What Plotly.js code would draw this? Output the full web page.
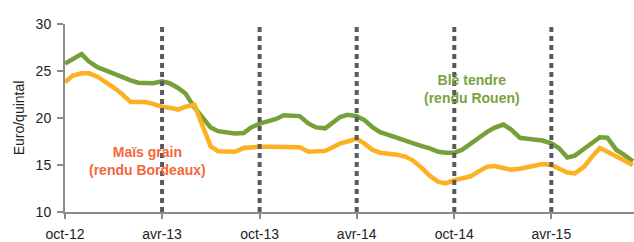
<!DOCTYPE html>
<html>
<head>
<meta charset="utf-8">
<script src="https://cdn.plot.ly/plotly-3.0.1.min.js"></script>
<style>html,body{margin:0;padding:0;background:#fff;}#chart{width:634px;height:242px;}</style>
</head>
<body>
<div id="chart"></div>
<script>
const dates = [
"2012-10-01","2012-10-15","2012-11-01","2012-11-15","2012-12-01","2012-12-15",
"2013-01-01","2013-01-15","2013-02-01","2013-02-15","2013-03-01","2013-03-15",
"2013-04-01","2013-04-15","2013-05-01","2013-05-15","2013-06-01","2013-06-15",
"2013-07-01","2013-07-15","2013-08-01","2013-08-15","2013-09-01","2013-09-15",
"2013-10-01","2013-10-15","2013-11-01","2013-11-15","2013-12-01","2013-12-15",
"2014-01-01","2014-01-15","2014-02-01","2014-02-15","2014-03-01","2014-03-15",
"2014-04-01","2014-04-15","2014-05-01","2014-05-15","2014-06-01","2014-06-15",
"2014-07-01","2014-07-15","2014-08-01","2014-08-15","2014-09-01","2014-09-15",
"2014-10-01","2014-10-15","2014-11-01","2014-11-15","2014-12-01","2014-12-15",
"2015-01-01","2015-01-15","2015-02-01","2015-02-15","2015-03-01","2015-03-15",
"2015-04-01","2015-04-15","2015-05-01","2015-05-15","2015-06-01","2015-06-15",
"2015-07-01","2015-07-15","2015-08-01","2015-08-15","2015-09-01"
];
const bleTendre = [
25.8,26.2,26.8,26.0,25.4,25.1,
24.7,24.3,24.0,23.75,23.7,23.7,
23.9,23.7,23.2,22.6,21.1,20.1,
19.0,18.6,18.4,18.35,18.4,19.0,
19.4,19.6,19.9,20.3,20.3,20.2,
19.4,19.0,18.9,19.5,20.1,20.35,
20.2,19.8,19.0,18.5,18.1,17.9,
17.6,17.3,17.0,16.8,16.4,16.3,
16.3,16.6,17.3,17.9,18.5,18.95,
19.3,18.8,17.9,17.8,17.75,17.6,
17.3,16.8,15.8,16.0,16.7,17.3,
17.95,17.9,16.6,16.1,15.4
];
const maisGrain = [
23.8,24.5,24.75,24.75,24.4,23.9,
23.2,22.6,21.7,21.7,21.7,21.5,
21.2,21.1,20.9,21.2,21.4,19.3,
17.0,16.45,16.4,16.4,16.8,16.9,
16.95,16.95,16.95,16.95,16.95,16.9,
16.4,16.4,16.5,16.9,17.3,17.5,
17.8,17.3,16.6,16.3,16.2,16.1,
15.9,15.5,14.7,13.9,13.2,13.05,
13.4,13.6,13.8,14.3,14.8,14.9,
14.65,14.5,14.6,14.8,14.95,15.1,
15.0,14.6,14.2,14.1,14.8,15.8,
16.8,16.4,15.9,15.6,15.0
];
const tickDates = ["2012-10-01","2013-04-01","2013-10-01","2014-04-01","2014-10-01","2015-04-01"];
const tickLabels = ["oct-12","avr-13","oct-13","avr-14","oct-14","avr-15"];
const seriesNames = ["Blé tendre<br>(rendu Rouen)","Maïs grain<br>(rendu Bordeaux)"];

const GREEN = "#76A03A", ORANGE = "#FDB122";
const traces = [
  {x: dates, y: bleTendre, type: "scatter", mode: "lines", name: seriesNames[0],
   line: {color: GREEN, width: 4.5}},
  {x: dates, y: maisGrain, type: "scatter", mode: "lines", name: seriesNames[1],
   line: {color: ORANGE, width: 4.5}}
];

const shapes = tickDates.slice(1).map(d => ({
  type: "line", xref: "x", yref: "paper", x0: d, x1: d, y0: 0, y1: 1,
  line: {color: "#5a5a5a", width: 4, dash: "5px,4px"}, layer: "above"
}));

const layout = {
  width: 634, height: 242,
  margin: {l: 65, r: 0, t: 24, b: 30},
  paper_bgcolor: "#fff", plot_bgcolor: "#fff",
  showlegend: false,
  font: {family: "Liberation Sans, Arial, sans-serif", size: 14, color: "#222"},
  xaxis: {
    type: "date", range: ["2012-10-01", "2015-09-03"],
    tickmode: "array", tickvals: tickDates, ticktext: tickLabels,
    showgrid: false, zeroline: false,
    showline: true, linecolor: "#8c8c8c", linewidth: 2,
    ticks: "outside", ticklen: 5, tickwidth: 2, tickcolor: "#8c8c8c",
    ticklabelstandoff: 3,
    tickfont: {size: 14, color: "#222"}
  },
  yaxis: {
    range: [10, 30], dtick: 5, tick0: 10,
    showgrid: false, zeroline: false,
    showline: true, linecolor: "#8c8c8c", linewidth: 2,
    ticks: "outside", ticklen: 6, tickwidth: 2, tickcolor: "#8c8c8c",
    ticklabelstandoff: 3,
    tickfont: {size: 14, color: "#222"},
    title: {text: "Euro/quintal", font: {size: 14, color: "#222"}, standoff: 8}
  },
  shapes: shapes,
  annotations: [
    {xref: "paper", yref: "paper", x: (472-65)/569, y: (212-89)/188,
     xanchor: "center", yanchor: "middle",
     text: "<b>" + seriesNames[0] + "</b>", showarrow: false,
     font: {size: 14, color: "#7BA23F"}, align: "center"},
    {xref: "paper", yref: "paper", x: (147-65)/569, y: (212-161)/188,
     xanchor: "center", yanchor: "middle",
     text: "<b>" + seriesNames[1] + "</b>", showarrow: false,
     font: {size: 14, color: "#F5673A"}, align: "center"}
  ]
};

Plotly.newPlot("chart", traces, layout, {displayModeBar: false, staticPlot: true});
</script>
</body>
</html>
